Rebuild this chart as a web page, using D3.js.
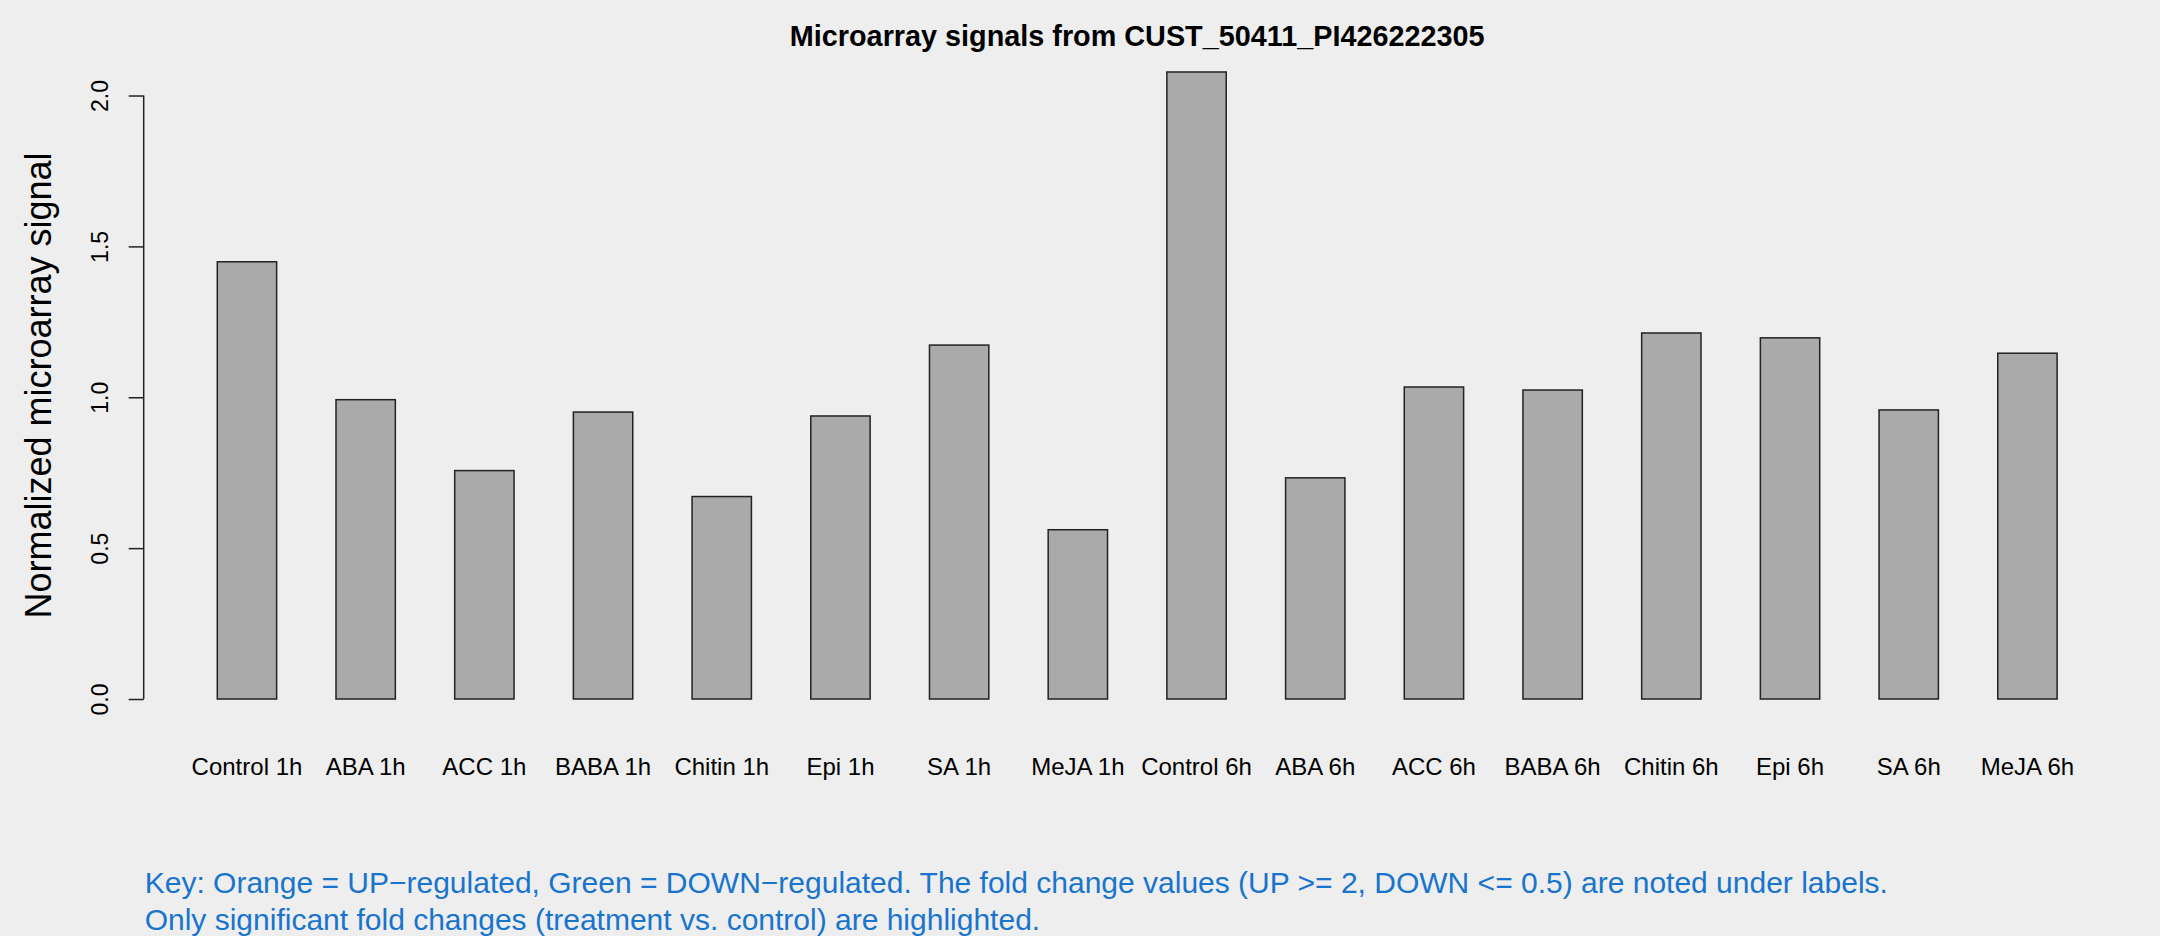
<!DOCTYPE html>
<html>
<head>
<meta charset="utf-8">
<script src="https://cdn.jsdelivr.net/npm/d3@7"></script>
<style>
  html, body { margin: 0; padding: 0; background: #EEEEEE; }
  svg { display: block; }
  text { font-family: "Liberation Sans", Arial, Helvetica, sans-serif; }
</style>
</head>
<body>
<script>
// ---------- data ----------
const categories = ["Control 1h", "ABA 1h", "ACC 1h", "BABA 1h", "Chitin 1h", "Epi 1h", "SA 1h", "MeJA 1h",
                    "Control 6h", "ABA 6h", "ACC 6h", "BABA 6h", "Chitin 6h", "Epi 6h", "SA 6h", "MeJA 6h"];
const signalValues = [1.449, 0.992, 0.757, 0.951, 0.671, 0.938, 1.173, 0.561,
                      2.078, 0.733, 1.034, 1.024, 1.213, 1.197, 0.958, 1.146];
const yTickValues = [0, 0.5, 1.0, 1.5, 2.0];
const titleText = "Microarray signals from CUST_50411_PI426222305";
const yLabelText = "Normalized microarray signal";
const keyLines = [
  "Key: Orange = UP\u2212regulated, Green = DOWN\u2212regulated. The fold change values (UP >= 2, DOWN <= 0.5) are noted under labels.",
  "Only significant fold changes (treatment vs. control) are highlighted."
];

// ---------- layout ----------
const W = 2160, H = 936;
const plotLeft = 143.7, plotRight = 2130.7, plotTop = 46.9, plotBottom = 724.1;

const svg = d3.select("body").append("svg").attr("width", W).attr("height", H);
svg.append("rect").attr("width", W).attr("height", H).attr("fill", "#EEEEEE");

// R-style barplot: bars of width 1 with space 1, axis extended by 4%
const n = categories.length;
const xMinU = 1, xMaxU = 2 * n;
const xPad = 0.04 * (xMaxU - xMinU);
const xLin = d3.scaleLinear().domain([xMinU - xPad, xMaxU + xPad]).range([plotLeft, plotRight]);
const x = d3.scaleBand().domain(categories)
  .range([xLin(0), xLin(2 * n + 1)])
  .paddingInner(0.5).paddingOuter(0.5);

const yMaxData = d3.max(signalValues);
const y = d3.scaleLinear().domain([-0.04 * yMaxData, 1.04 * yMaxData]).range([plotBottom, plotTop]);

// bars
svg.append("g").selectAll("rect").data(categories).join("rect")
  .attr("x", d => x(d))
  .attr("y", (d, i) => y(signalValues[i]))
  .attr("width", x.bandwidth())
  .attr("height", (d, i) => y(0) - y(signalValues[i]))
  .attr("fill", "#AAAAAA")
  .attr("stroke", "#222")
  .attr("stroke-width", 1.5);

// category labels
svg.append("g").selectAll("text").data(categories).join("text")
  .attr("x", d => x(d) + x.bandwidth() / 2)
  .attr("y", 775)
  .attr("text-anchor", "middle")
  .attr("font-size", 24)
  .attr("fill", "#000")
  .text(d => d);

// y axis
const yAxis = d3.axisLeft(y).tickValues(yTickValues).tickSize(15).tickFormat(d3.format(".1f"));
const gy = svg.append("g").attr("transform", `translate(${plotLeft},0)`).call(yAxis);
gy.select(".domain").remove();
gy.selectAll(".tick line").attr("stroke", "#222").attr("stroke-width", 1.5);
gy.selectAll(".tick text")
  .attr("x", null).attr("dy", null)
  .attr("font-size", 23)
  .attr("font-family", "Liberation Sans, Arial, sans-serif")
  .attr("fill", "#000")
  .attr("text-anchor", "middle")
  .attr("transform", `translate(${108 - plotLeft},0) rotate(-90)`);
gy.append("line")
  .attr("x1", 0).attr("x2", 0)
  .attr("y1", y(yTickValues[0])).attr("y2", y(yTickValues[yTickValues.length - 1]))
  .attr("stroke", "#222").attr("stroke-width", 1.5);

// y label
svg.append("text")
  .attr("transform", `translate(51,${(plotTop + plotBottom) / 2}) rotate(-90)`)
  .attr("text-anchor", "middle")
  .attr("font-size", 36)
  .attr("fill", "#000")
  .text(yLabelText);

// title
svg.append("text")
  .attr("x", (plotLeft + plotRight) / 2)
  .attr("y", 46)
  .attr("text-anchor", "middle")
  .attr("font-size", 28.8)
  .attr("font-weight", "bold")
  .attr("fill", "#000")
  .text(titleText);

// key
svg.append("g").selectAll("text").data(keyLines).join("text")
  .attr("x", plotLeft + 1)
  .attr("y", (d, i) => 893 + i * 37)
  .attr("font-size", 30)
  .attr("fill", "#1874CD")
  .text(d => d);
</script>
</body>
</html>
